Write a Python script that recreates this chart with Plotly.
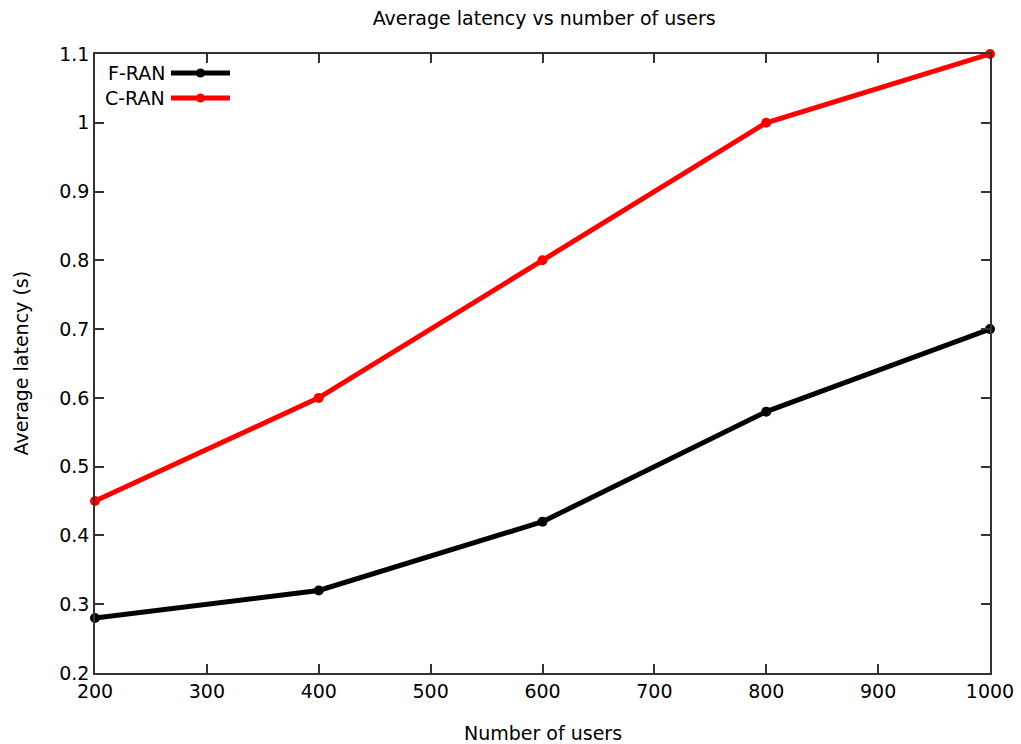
import plotly.graph_objects as go

users = [200, 400, 600, 800, 1000]
f_ran = [0.28, 0.32, 0.42, 0.58, 0.70]
c_ran = [0.45, 0.60, 0.80, 1.00, 1.10]
series_names = ["F-RAN", "C-RAN"]
colors = ["#000000", "#ff0000"]

fig = go.Figure()
for name, vals, col in zip(series_names, [f_ran, c_ran], colors):
    fig.add_trace(go.Scatter(x=users, y=vals, mode="lines+markers", name=name,
                             line=dict(color=col, width=5),
                             marker=dict(color=col, size=10), showlegend=False))

font = "DejaVu Sans, sans-serif"
FS = 19
L, R, T, B = 95, 990, 54, 673
W, H = R - L, B - T
# custom gnuplot-style legend (text left of sample)
leg_y = [73, 98]
for name, col, yy in zip(series_names, colors, leg_y):
    yp = 1 - (yy - T) / H
    fig.add_annotation(x=(167 - L) / W, y=yp, xref="paper", yref="paper",
                       text=name, showarrow=False, xanchor="right", yanchor="middle",
                       font=dict(family=font, size=FS, color="#000"))
    fig.add_shape(type="line", xref="paper", yref="paper",
                  x0=(171 - L) / W, x1=(230 - L) / W, y0=yp, y1=yp,
                  line=dict(color=col, width=5))
    fig.add_shape(type="circle", xref="paper", yref="paper",
                  x0=(196 - L) / W, x1=(205 - L) / W,
                  y0=yp - 4.5 / H, y1=yp + 4.5 / H,
                  fillcolor=col, line=dict(color=col, width=0))

# axis titles
fig.add_annotation(x=0.5, y=-(733 - B) / H, xref="paper", yref="paper",
                   text="Number of users", showarrow=False, xanchor="center", yanchor="middle",
                   font=dict(family=font, size=FS, color="#000"))
fig.add_annotation(x=-(L - 20) / W, y=0.5, xref="paper", yref="paper",
                   text="Average latency (s)", showarrow=False, textangle=-90,
                   xanchor="center", yanchor="middle",
                   font=dict(family=font, size=FS, color="#000"))

axis_common = dict(showgrid=False, zeroline=False, ticks="inside", ticklen=9,
                   tickwidth=1.5, tickcolor="#333", mirror="ticks", showline=True,
                   linecolor="#333", linewidth=1.5, automargin=False,
                   tickfont=dict(family=font, size=FS, color="#000"))

fig.update_layout(
    width=1021, height=744,
    margin=dict(l=L, r=1021 - R, t=T, b=744 - B),
    paper_bgcolor="white", plot_bgcolor="white",
    title=dict(text="Average latency vs number of users", x=0.533, xanchor="center",
               y=1 - 18 / 744, yanchor="middle",
               font=dict(family=font, size=FS, color="#000")),
    xaxis=dict(range=[200, 1000], dtick=100, tick0=200, **axis_common),
    yaxis=dict(range=[0.2, 1.1], dtick=0.1, tick0=0.2, tickformat="~g", **axis_common),
)
for t in fig.data:
    t.cliponaxis = False

fig.write_html("out.html")
